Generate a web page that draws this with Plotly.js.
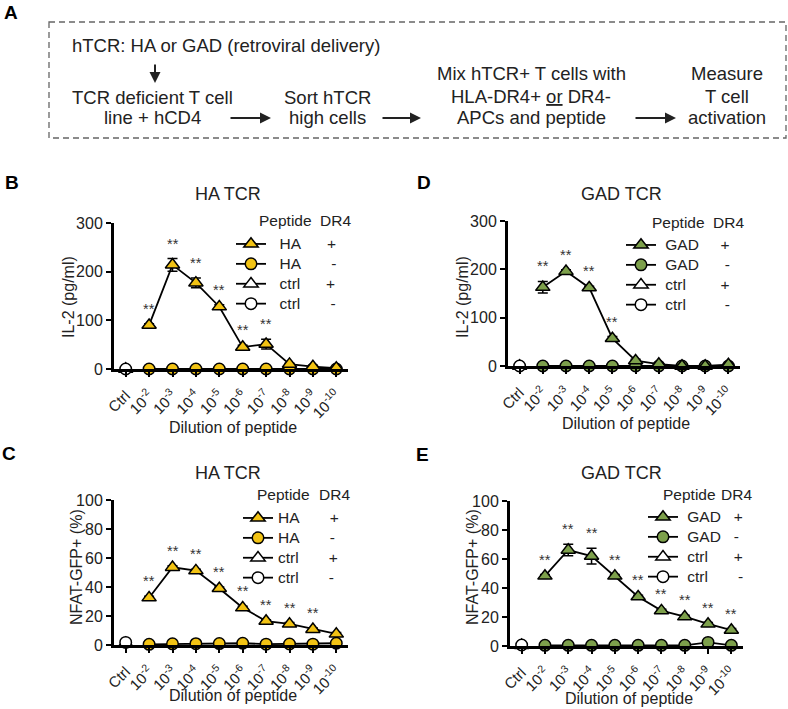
<!DOCTYPE html>
<html><head><meta charset="utf-8">
<script src="https://cdn.plot.ly/plotly-3.0.1.min.js"></script>
<style>html,body{margin:0;padding:0;background:#fff}#chart{width:788px;height:709px}</style>
</head><body><div id="chart"></div>
<script>
// ---------------- DATA ----------------
const categories = ['Ctrl','10<sup>-2</sup>','10<sup>-3</sup>','10<sup>-4</sup>','10<sup>-5</sup>','10<sup>-6</sup>','10<sup>-7</sup>','10<sup>-8</sup>','10<sup>-9</sup>','10<sup>-10</sup>'];
const peptideCats = categories.slice(1);
const ctrlCats = ['Ctrl'];

// Panel B: HA TCR, IL-2 (pg/ml)
const haIL2Pos    = [90, 214, 177, 128, 45, 51, 10, 5, 2];
const haIL2PosErr = [3, 13, 10, 4, 4, 10, 2, 2, 1];
const haIL2Neg    = [0, 0, 0, 0, 0, 0, 0, 0, 0];
const haIL2CtrlPos = [0];
const haIL2CtrlNeg = [0];
const haIL2Sig    = [1, 1, 1, 1, 1, 1, 0, 0, 0];

// Panel D: GAD TCR, IL-2 (pg/ml)
const gadIL2Pos    = [163, 196, 162, 57, 11, 4, 0, 0, 3];
const gadIL2PosErr = [12, 3, 3, 4, 3, 1, 1, 1, 1];
const gadIL2Neg    = [0, 0, 0, 0, 0, 0, 0, 0, 0];
const gadIL2CtrlPos = [0];
const gadIL2CtrlNeg = [0];
const gadIL2Sig    = [1, 1, 1, 1, 0, 0, 0, 0, 0];

// Panel C: HA TCR, NFAT-GFP+ (%)
const haGFPPos    = [32.6, 53.6, 51.3, 39, 25.7, 16.5, 14.5, 10.8, 7.6];
const haGFPPosErr = [1, 1, 1, 1, 1, 1, 1, 1, 1];
const haGFPNeg    = [0.5, 0.8, 0.9, 1, 1.2, 0.6, 0.7, 0.6, 1.2];
const haGFPCtrlPos = [1.2];
const haGFPCtrlNeg = [1.8];
const haGFPSig    = [1, 1, 1, 1, 1, 1, 1, 1, 0];

// Panel E: GAD TCR, NFAT-GFP+ (%)
const gadGFPPos    = [48.3, 66.2, 62, 48.3, 34, 24.4, 20.2, 15.2, 11];
const gadGFPPosErr = [1, 4, 5.5, 1, 1, 1, 1, 1, 1];
const gadGFPNeg    = [0.5, 0.5, 0.5, 0.5, 0.5, 0.5, 0.5, 2.5, 0.5];
const gadGFPCtrlPos = [0.5];
const gadGFPCtrlNeg = [0.7];
const gadGFPSig    = [1, 1, 1, 1, 1, 1, 1, 1, 1];

const il2Ticks = [0, 100, 200, 300];
const gfpTicks = [0, 20, 40, 60, 80, 100];

// ---------------- STYLE / LAYOUT ----------------
const W = 788, H = 709;
const X = px => px / W;
const Y = py => 1 - py / H;
const FONT = 'Liberation Sans, Arial, Helvetica, sans-serif';
const TXT = '#222';
const NB = n => '\u00A0'.repeat(n);
const HA_COLOR = '#F2C314';
const GAD_COLOR = '#7DA04B';

const panels = [
  { id:'B', n:'', legendId:'legend', peptide:'HA', color:HA_COLOR,
    pos:haIL2Pos, posErr:haIL2PosErr, neg:haIL2Neg, ctrlPos:haIL2CtrlPos, ctrlNeg:haIL2CtrlNeg, sig:haIL2Sig,
    yRange:[0,300], yTicks:il2Ticks, yTitle:'IL-2 (pg/ml)', title:'HA TCR',
    xPx:[114,348], yPx:[369,223],
    titlePos:[228,194], yTitlePos:[68,297], xTitlePos:[233,428], letterPos:[12,182],
    legendPos:[231,229], lead:2, gaps:[6,7,6,7], headPos:[257,318,221] },
  { id:'D', n:'2', legendId:'legend2', peptide:'GAD', color:GAD_COLOR,
    pos:gadIL2Pos, posErr:gadIL2PosErr, neg:gadIL2Neg, ctrlPos:gadIL2CtrlPos, ctrlNeg:gadIL2CtrlNeg, sig:gadIL2Sig,
    yRange:[0,300], yTicks:il2Ticks, yTitle:'IL-2 (pg/ml)', title:'GAD TCR',
    xPx:[508,740], yPx:[366,221],
    titlePos:[621,194], yTitlePos:[462,297], xTitlePos:[626,423], letterPos:[424,182],
    legendPos:[621,230], lead:1, gaps:[5,6,8,9], headPos:[650,711,223] },
  { id:'C', n:'3', legendId:'legend3', peptide:'HA', color:HA_COLOR,
    pos:haGFPPos, posErr:haGFPPosErr, neg:haGFPNeg, ctrlPos:haGFPCtrlPos, ctrlNeg:haGFPCtrlNeg, sig:haGFPSig,
    yRange:[0,100], yTicks:gfpTicks, yTitle:'NFAT-GFP+ (%)', title:'HA TCR',
    xPx:[114,348], yPx:[645,500],
    titlePos:[228,473], yTitlePos:[76,567], xTitlePos:[233,695], letterPos:[9,453],
    legendPos:[238,503], lead:0, gaps:[7,7,7,7], headPos:[255,317,494] },
  { id:'E', n:'4', legendId:'legend4', peptide:'GAD', color:GAD_COLOR,
    pos:gadGFPPos, posErr:gadGFPPosErr, neg:gadGFPNeg, ctrlPos:gadGFPCtrlPos, ctrlNeg:gadGFPCtrlNeg, sig:gadGFPSig,
    yRange:[0,100], yTicks:gfpTicks, yTitle:'NFAT-GFP+ (%)', title:'GAD TCR',
    xPx:[510,743], yPx:[646,501],
    titlePos:[621,473], yTitlePos:[472,567], xTitlePos:[629,698], letterPos:[422,454],
    legendPos:[643,502], lead:1, gaps:[3,3,6,7], headPos:[661,719,494] }
];

const traces = [];
const annotations = [];
const layout = {
  width: W, height: H,
  margin: {l:0, r:0, t:0, b:0},
  paper_bgcolor: '#fff', plot_bgcolor: 'rgba(0,0,0,0)',
  font: {family: FONT, color: TXT, size: 15},
  showlegend: true,
  shapes: [],
  annotations: annotations
};

function legendName(label, sign, lead, gap) {
  return '<span style="font-size:15.5px">' + NB(lead) + label + NB(gap) + sign + '</span>';
}

panels.forEach(p => {
  const xa = 'x' + p.n, ya = 'y' + p.n;
  const markerLine = {color:'#000', width:1.5};
  const lineStyle = {color:'#000', width:1.8};
  const common = {type:'scatter', mode:'lines+markers', xaxis:xa, yaxis:ya, legend:p.legendId, cliponaxis:false, hoverinfo:'skip'};
  // draw order: ctrl+, ctrl-, peptide-, peptide+
  traces.push(Object.assign({}, common, {
    x: ctrlCats, y: p.ctrlPos, name: legendName('ctrl', '+', p.lead, p.gaps[2]), legendrank: 3,
    line: lineStyle, marker: {symbol:'triangle-up', size:12.5, color:'#fff', line:markerLine}
  }));
  traces.push(Object.assign({}, common, {
    x: ctrlCats, y: p.ctrlNeg, name: legendName('ctrl', '-', p.lead, p.gaps[3]), legendrank: 4,
    line: lineStyle, marker: {symbol:'circle', size:11.5, color:'#fff', line:markerLine}
  }));
  traces.push(Object.assign({}, common, {
    x: peptideCats, y: p.neg, name: legendName(p.peptide, '-', p.lead, p.gaps[1]), legendrank: 2,
    line: lineStyle, marker: {symbol:'circle', size:11.5, color:p.color, line:markerLine}
  }));
  traces.push(Object.assign({}, common, {
    x: peptideCats, y: p.pos, name: legendName(p.peptide, '+', p.lead, p.gaps[0]), legendrank: 1,
    error_y: {type:'data', array:p.posErr, visible:true, color:'#000', thickness:1.5, width:5},
    line: lineStyle, marker: {symbol:'triangle-up', size:12.5, color:p.color, line:markerLine}
  }));

  layout['xaxis' + p.n] = {
    domain: [X(p.xPx[0]), X(p.xPx[1])], anchor: ya,
    type: 'category', categoryorder: 'array', categoryarray: categories,
    range: [-0.5, 9.5], fixedrange: true,
    showline: true, linecolor: '#000', linewidth: 3,
    ticks: 'outside', ticklen: 5, tickwidth: 2, tickcolor: '#000',
    tickangle: -45, ticklabelstandoff: 4, tickfont: {family: FONT, size: 15, color: TXT},
    showgrid: false, zeroline: false
  };
  layout['yaxis' + p.n] = {
    domain: [Y(p.yPx[0]), Y(p.yPx[1])], anchor: xa,
    range: p.yRange, tickvals: p.yTicks, fixedrange: true,
    showline: true, linecolor: '#000', linewidth: 3,
    ticks: 'outside', ticklen: 5, tickwidth: 2, tickcolor: '#000',
    tickfont: {family: FONT, size: 16, color: TXT},
    showgrid: false, zeroline: false
  };
  layout[p.legendId] = {
    x: X(p.legendPos[0]), y: Y(p.legendPos[1]), xanchor: 'left', yanchor: 'top',
    bgcolor: 'rgba(0,0,0,0)', borderwidth: 0,
    font: {family: FONT, size: 13, color: TXT},
    itemclick: false, itemdoubleclick: false
  };

  // legend header
  annotations.push({xref:'paper', yref:'paper', x:X(p.headPos[0]), y:Y(p.headPos[2]), text:'Peptide', showarrow:false,
    xanchor:'left', yanchor:'middle', font:{family:FONT, size:15.5, color:TXT}});
  annotations.push({xref:'paper', yref:'paper', x:X(p.headPos[1]), y:Y(p.headPos[2]), text:'DR4', showarrow:false,
    xanchor:'left', yanchor:'middle', font:{family:FONT, size:15.5, color:TXT}});

  // significance stars
  p.sig.forEach((s, i) => {
    if (!s) return;
    annotations.push({xref: xa, yref: ya, x: peptideCats[i], y: p.pos[i] + p.posErr[i],
      text: '**', showarrow: false, yanchor: 'middle', yshift: 15,
      font: {family: FONT, size: 14.5, color: '#333'}});
  });
  // titles
  annotations.push({xref:'paper', yref:'paper', x:X(p.titlePos[0]), y:Y(p.titlePos[1]), text:p.title, showarrow:false,
    xanchor:'center', yanchor:'middle', font:{family:FONT, size:18, color:TXT}});
  annotations.push({xref:'paper', yref:'paper', x:X(p.yTitlePos[0]), y:Y(p.yTitlePos[1]), text:p.yTitle, showarrow:false,
    textangle:-90, xanchor:'center', yanchor:'middle', font:{family:FONT, size:16, color:TXT}});
  annotations.push({xref:'paper', yref:'paper', x:X(p.xTitlePos[0]), y:Y(p.xTitlePos[1]), text:'Dilution of peptide', showarrow:false,
    xanchor:'center', yanchor:'middle', font:{family:FONT, size:16, color:TXT}});
  annotations.push({xref:'paper', yref:'paper', x:X(p.letterPos[0]), y:Y(p.letterPos[1]), text:'<b>' + p.id + '</b>', showarrow:false,
    xanchor:'center', yanchor:'middle', font:{family:FONT, size:19, color:'#000'}});
});

// ---------------- Panel A (schematic) ----------------
annotations.push({xref:'paper', yref:'paper', x:X(11), y:Y(13), text:'<b>A</b>', showarrow:false,
  xanchor:'center', yanchor:'middle', font:{family:FONT, size:19, color:'#000'}});
layout.shapes.push({type:'rect', xref:'paper', yref:'paper', x0:X(49), x1:X(786), y0:Y(22), y1:Y(138),
  line:{color:'#666', width:1.3, dash:'6px,4px'}, fillcolor:'rgba(0,0,0,0)'});

const schemaText = [
  {t:'hTCR: HA or GAD (retroviral delivery)', x:70, y:45, a:'left'},
  {t:'TCR deficient T cell', x:152, y:97},
  {t:'line + hCD4', x:152, y:118},
  {t:'Sort hTCR', x:327, y:97},
  {t:'high cells', x:327, y:118},
  {t:'Mix hTCR+ T cells with', x:531, y:73},
  {t:'HLA-DR4+ <u>or</u> DR4-', x:531, y:96},
  {t:'APCs and peptide', x:531, y:118},
  {t:'Measure', x:727, y:73},
  {t:'T cell', x:727, y:96},
  {t:'activation', x:727, y:118}
];
schemaText.forEach(s => annotations.push({xref:'paper', yref:'paper', x:X(s.x), y:Y(s.y), text:s.t, showarrow:false,
  xanchor:s.a || 'center', yanchor:'middle', font:{family:FONT, size:18.5, color:TXT}}));

const schemaArrows = [
  {x0:155, y0:63, x1:155, y1:83},
  {x0:229, y0:118, x1:271, y1:118},
  {x0:381, y0:118, x1:421, y1:118},
  {x0:634, y0:118, x1:676, y1:118}
];
schemaArrows.forEach(a => annotations.push({xref:'paper', yref:'paper', x:X(a.x1), y:Y(a.y1), ax:a.x0 - a.x1, ay:a.y0 - a.y1,
  axref:'pixel', ayref:'pixel', text:'', showarrow:true, arrowhead:2, arrowsize:1.1, arrowwidth:2, arrowcolor:'#222', standoff:0, startstandoff:0}));

Plotly.newPlot('chart', traces, layout, {staticPlot:true, displayModeBar:false});
</script>
</body></html>
